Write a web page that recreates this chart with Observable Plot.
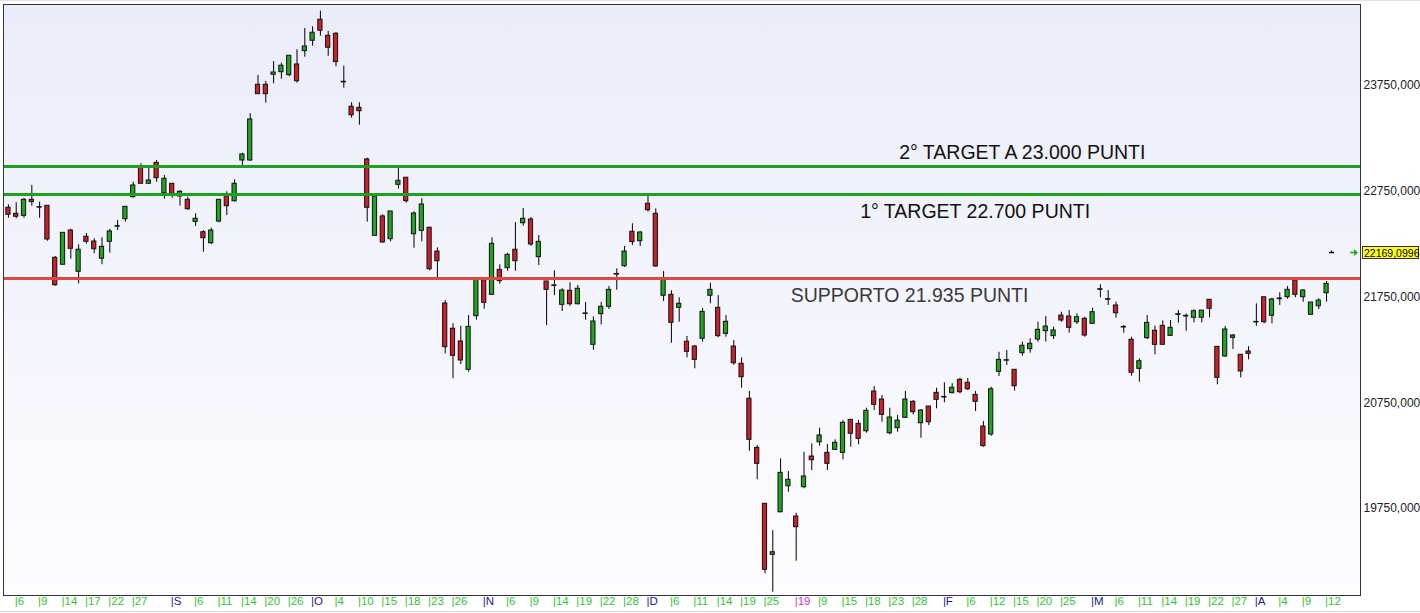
<!DOCTYPE html>
<html>
<head>
<meta charset="utf-8">
<script src="https://cdn.jsdelivr.net/npm/d3@7"></script>
<script src="https://cdn.jsdelivr.net/npm/@observablehq/plot@0.6"></script>
<style>
html, body { margin: 0; padding: 0; background: #fff; overflow: hidden; }
</style>
</head>
<body>
<div id="chart"></div>
<script>
// ---- Data (FTSE MIB daily candles, Aug 2018 - Apr 2019) ----
const opens = [22594,22537,22518,22669,22600,22613,22121,22055,22379,21989,22320,22275,22112,22272,22415,22486,22694,22972,22821,23019,22732,22821,22701,22669,22461,22363,22259,22464,22704,22656,
23041,23041,23757,23757,23851,23876,23848,23949,24075,24173,24372,24220,24239,23785,23549,23539,23051,22329,22512,22297,22811,22878,22344,22376,22405,22180,21689,21450,21330,21062,
21569,21909,21771,22007,22023,22197,22448,22483,22127,21897,21860,21676,21809,21682,21595,21298,21588,21658,21962,22042,22367,22278,22632,22537,21762,21771,21648,21327,21282,21355,
21762,21648,21402,21282,21119,20788,20324,19795,19313,19715,19961,19675,19952,20242,20377,20277,20305,20277,20589,20551,20481,20857,20781,20462,20510,20608,20759,20557,20715,20844,
20800,20841,20967,20939,20825,20526,20450,21043,21148,21062,21219,21257,21348,21427,21380,21575,21566,21512,21544,21497,21818,21730,21670,21467,21346,21071,21361,21431,21478,21383,
21582,21572,21554,21554,21724,21279,21188,21364,21204,21235,21510,21748,21573,21730,21748,21906,21748,21582,21663,21786];
const highs = [22622,22641,22682,22805,22647,22613,22133,22357,22391,22244,22351,22301,22310,22391,22474,22603,22836,23010,22972,23041,22899,22821,22757,22694,22537,22379,22401,22669,22745,22859,
23110,23483,23845,23788,23977,23961,24031,24088,24289,24305,24453,24261,24251,23933,23587,23587,23063,22701,22528,22559,22968,22878,22556,22679,22410,22215,21717,21497,21474,21575,
21922,21909,22310,22055,22165,22455,22587,22502,22332,21897,21998,21828,21885,21859,21698,21563,21698,21850,22017,22228,22443,22370,22701,22584,21991,21809,21743,21377,21292,21642,
21881,21764,21575,21339,21175,20857,20346,19795,19542,20220,20100,19706,20283,20362,20510,20356,20400,20583,20589,20583,20699,20904,20819,20699,20630,20857,20772,20687,20715,20888,
20939,20930,20983,20980,20857,20573,20897,21228,21244,21062,21323,21355,21512,21566,21465,21607,21622,21591,21559,21644,21866,21812,21701,21481,21370,21166,21575,21474,21525,21528,
21622,21591,21629,21622,21724,21279,21471,21396,21204,21282,21686,21748,21739,21790,21850,21913,21818,21698,21733,21897];
const lows = [22495,22490,22495,22609,22495,22278,21852,22055,22108,21875,22250,22159,22055,22165,22379,22458,22685,22821,22821,22836,22675,22685,22609,22568,22417,22174,22247,22452,22521,22647,
22994,23032,23668,23583,23766,23810,23833,23772,24018,24122,24216,24027,23927,23725,23441,23375,22458,22329,22259,22272,22770,22637,22212,22272,21998,21932,21213,20977,21112,21039,
21531,21635,21764,21871,21994,21994,22420,22228,22048,21481,21764,21613,21663,21676,21531,21247,21487,21632,21815,22029,22237,22228,22552,22032,21708,21313,21512,21175,21071,21323,
21686,21364,21370,21105,20888,20292,20022,19133,18959,19710,19904,19252,19937,20110,20340,20110,20299,20211,20330,20353,20462,20677,20566,20447,20472,20601,20636,20415,20535,20693,
20750,20835,20835,20866,20668,20330,20434,20998,21103,20860,21190,21219,21323,21323,21348,21512,21408,21490,21370,21490,21743,21670,21550,21408,21001,20945,21348,21204,21298,21377,
21503,21427,21506,21506,21554,20920,21181,21254,20986,21156,21474,21497,21497,21670,21730,21743,21701,21582,21632,21701];
const closes = [22528,22509,22669,22647,22595,22294,21862,22357,22206,22197,22272,22202,22225,22370,22420,22603,22805,22821,22852,22874,22868,22726,22745,22581,22490,22306,22379,22669,22609,22821,
23098,23429,23668,23668,23873,23937,24031,23791,24119,24249,24268,24107,23971,23780,23469,23507,22594,22701,22266,22559,22849,22656,22540,22625,22013,22089,21276,21194,21150,21468,
21922,21695,22253,21900,22149,22089,22490,22247,22272,21818,21855,21812,21682,21828,21590,21519,21658,21818,21968,22180,22269,22360,22571,22039,21913,21506,21686,21232,21156,21610,
21818,21380,21516,21124,20992,20400,20173,19171,19337,20088,20022,19574,20053,20207,20441,20173,20372,20561,20457,20409,20674,20731,20636,20611,20582,20781,20661,20677,20566,20778,
20806,20892,20850,20878,20759,20340,20878,21156,21153,20907,21289,21308,21440,21471,21434,21528,21459,21559,21386,21607,21824,21724,21597,21462,21034,21143,21506,21298,21298,21459,
21588,21566,21616,21622,21639,20986,21443,21386,21046,21213,21515,21512,21727,21736,21818,21771,21812,21698,21717,21875];

// x-axis labels: candle index, text, kind (d = day, m = month, y = year)
const tickIndex = [1,4,7,10,13,16,21,24,27,30,33,36,39,42,45,48,51,54,57,61,64,67,70,73,76,79,82,85,88,91,94,97,101,104,107,110,113,116,120,123,126,129,132,135,139,142,145,148,151,154,157,160,163,166,169];
const tickLabel = ["6","9","14","17","22","27","S","6","11","14","20","26","O","4","10","15","18","23","26","N","6","9","14","19","22","28","D","6","11","14","19","25","19","9","15","18","23","28","F","6","12","15","20","25","M","6","11","14","19","22","27","A","4","9","12"];
const tickKind = ["d","d","d","d","d","d","m","d","d","d","d","d","m","d","d","d","d","d","d","m","d","d","d","d","d","d","m","d","d","d","d","d","y","d","d","d","d","d","m","d","d","d","d","d","m","d","d","d","d","d","d","m","d","d","d"];

// y-axis labels
const yTicks = [19750, 20750, 21750, 22750, 23750];

// horizontal levels
const levelValues = [22984, 22719, 21925];
const levelColors = ["#20a020", "#20a020", "#e04848"];

// annotations
const noteText = ["2° TARGET A 23.000 PUNTI", "1° TARGET 22.700 PUNTI", "SUPPORTO 21.935 PUNTI"];
const noteLevel = [22984, 22719, 21925];
const noteIndex = [114.2, 109.2, 100.3];
const noteShift = [-14, 17, 17.5];
const noteColor = ["#111", "#111", "#3a3a3a"];

// last quote marker
const lastQuote = 22169.0996;
const lastQuoteLabel = "22169,0996";

// ---- Build ----
const candles = opens.map((o, i) => ({i, open: o, high: highs[i], low: lows[i], close: closes[i]}));
const xticks = tickIndex.map((i, k) => ({i, label: tickLabel[k], kind: tickKind[k]}));
const kindColor = {d: "#33c433", m: "#1a1a8c", y: "#cc33cc"};
const levels = levelValues.map((v, k) => ({value: v, color: levelColors[k]}));
const notes = noteText.map((t, k) => ({text: t, level: noteLevel[k], i: noteIndex[k], dy: noteShift[k], color: noteColor[k]}));
const lastIdx = candles.length - 1;

function background(index, scales, values, dims) {
  const g = d3.create("svg:g");
  const grad = g.append("defs").append("linearGradient")
    .attr("id", "bgGrad").attr("x1", 0).attr("y1", 0).attr("x2", 0).attr("y2", 1);
  grad.append("stop").attr("offset", "0%").attr("stop-color", "#eaecf9");
  grad.append("stop").attr("offset", "100%").attr("stop-color", "#fdfdff");
  g.append("rect")
    .attr("x", dims.marginLeft).attr("y", dims.marginTop)
    .attr("width", dims.width - dims.marginLeft - dims.marginRight)
    .attr("height", dims.height - dims.marginTop - dims.marginBottom)
    .attr("fill", "url(#bgGrad)");
  g.append("line").attr("x1", 0).attr("x2", dims.width).attr("y1", 0.5).attr("y2", 0.5).attr("stroke", "#e2e2e2");
  g.append("line").attr("x1", 0).attr("x2", dims.width).attr("y1", dims.height - 1.5).attr("y2", dims.height - 1.5).attr("stroke", "#d8d8d8");
  return g.node();
}

function quoteTag(index, scales, values, dims) {
  const g = d3.create("svg:g");
  const y = Math.round(scales.y(lastQuote));
  const xr = dims.width - dims.marginRight;
  const xc = scales.x(lastIdx);
  // small black marker near the last candle
  g.append("line").attr("x1", xc + 3).attr("x2", xc + 8).attr("y1", y + 0.5).attr("y2", y + 0.5).attr("stroke", "#000").attr("stroke-width", 1.5);
  g.append("line").attr("x1", xc + 5.5).attr("x2", xc + 5.5).attr("y1", y - 1.5).attr("y2", y).attr("stroke", "#000").attr("stroke-width", 1);
  // green arrow
  g.append("line").attr("x1", xr - 10).attr("x2", xr - 5).attr("y1", y + 0.5).attr("y2", y + 0.5).attr("stroke", "#22aa22").attr("stroke-width", 1.5);
  g.append("path").attr("d", `M${xr - 6},${y - 3}L${xr - 2},${y + 0.5}L${xr - 6},${y + 4}Z`).attr("fill", "#22aa22");
  // yellow tag
  g.append("rect").attr("x", xr + 2.5).attr("y", y - 5.5).attr("width", 56).attr("height", 12)
    .attr("fill", "#ffff22").attr("stroke", "#333").attr("stroke-width", 1);
  g.append("text").attr("x", xr + 4).attr("y", y + 4.5).attr("font-size", 10.5)
    .attr("text-anchor", "start")
    .attr("font-family", "'Liberation Sans', Arial, sans-serif").attr("fill", "#000").text(lastQuoteLabel);
  return g.node();
}

const chart = Plot.plot({
  width: 1420,
  height: 613,
  marginLeft: 3,
  marginRight: 60,
  marginTop: 4,
  marginBottom: 18,
  x: {domain: [-0.63, 173.35], axis: null},
  y: {domain: [18928, 24516], axis: null},
  style: {fontFamily: "'Liberation Sans', Arial, sans-serif", background: "#fff", overflow: "visible"},
  marks: [
    background,
    Plot.ruleX(candles, {x: "i", y1: "low", y2: "high", stroke: "#000", strokeWidth: 1}),
    Plot.rect(candles, {
      x1: d => d.i - 0.27, x2: d => d.i + 0.27,
      y1: "open", y2: "close",
      fill: d => d.close >= d.open ? "#22a322" : "#c9202a",
      stroke: "#111", strokeWidth: 1
    }),
    Plot.ruleY(levels, {y: "value", stroke: "color", strokeWidth: 3}),
    ...notes.map(n => Plot.text([n], {
      x: "i", y: "level", text: "text", dy: n.dy, textAnchor: "start",
      fontSize: 19.5, fill: n.color
    })),
    Plot.frame({stroke: "#333"}),
    Plot.text(yTicks, {
      y: d => d, text: d => d + ",000", frameAnchor: "right", textAnchor: "start",
      dx: 3, fontSize: 12, fill: "#222"
    }),
    Plot.text(xticks, {
      x: "i", text: d => "|" + d.label, frameAnchor: "bottom", textAnchor: "start",
      dx: -1.5, dy: 9, fontSize: 11.5, fill: d => kindColor[d.kind]
    }),
    quoteTag
  ]
});
document.getElementById("chart").appendChild(chart);
</script>
</body>
</html>
